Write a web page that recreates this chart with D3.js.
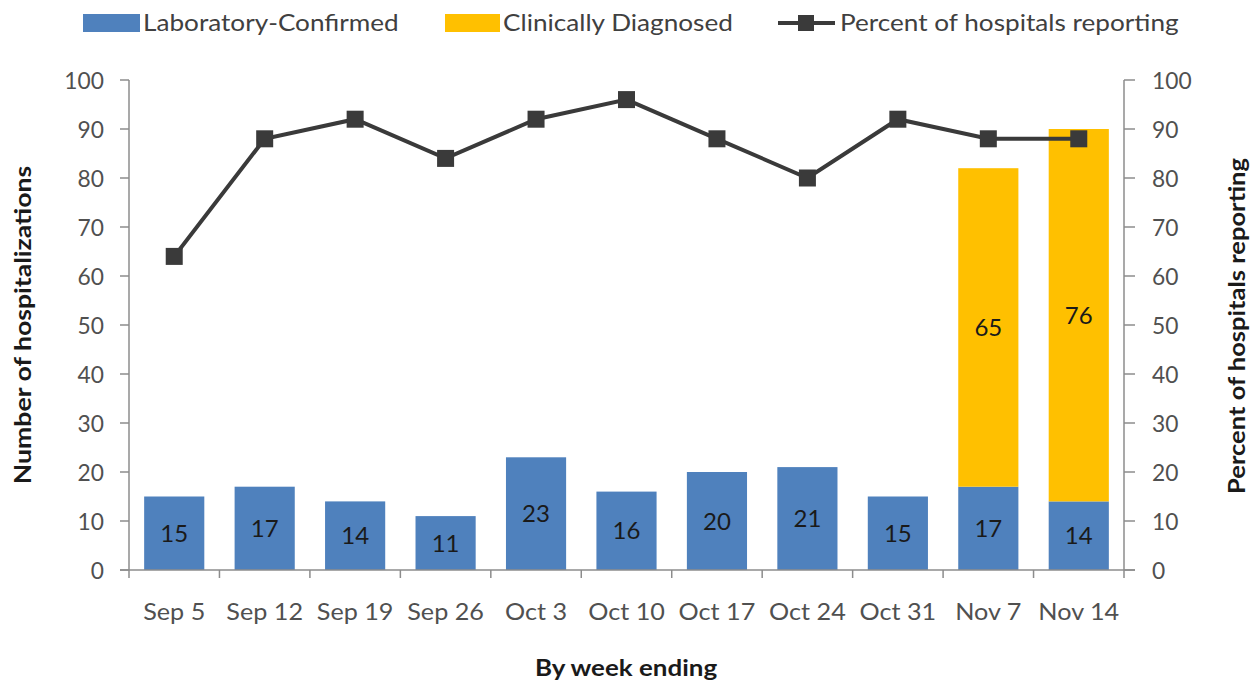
<!doctype html>
<html lang="en">
<head>
  <script src="https://cdnjs.cloudflare.com/ajax/libs/d3/7.8.5/d3.min.js"></script>
  <style type="text/css">
    body {
      padding: 0;
      margin: 0;
      background: #fff;
    }
    svg text {
      font-family: Lato, "Open Sans", sans-serif;
    }
  </style>
</head>
<body>
<svg id="canvas" width="1257" height="684"></svg>
<script>

var weeks = ['Sep 5', 'Sep 12', 'Sep 19', 'Sep 26', 'Oct 3', 'Oct 10',
             'Oct 17', 'Oct 24', 'Oct 31', 'Nov 7', 'Nov 14'];
var labConfirmed = [15, 17, 14, 11, 23, 16, 20, 21, 15, 17, 14];
var clinical = [0, 0, 0, 0, 0, 0, 0, 0, 0, 65, 76];
var pctReporting = [64, 88, 92, 84, 92, 96, 88, 80, 92, 88, 88];
var yTicks = [0, 10, 20, 30, 40, 50, 60, 70, 80, 90, 100];

var blue = '#4f81bd';
var gold = '#ffc000';
var lineColor = '#3a3a3a';
var axisColor = '#8c8c8c';
var tickText = '#505050';

var svg = d3.select('#canvas');

var plotLeft = 129, plotRight = 1124, plotTop = 80, plotBottom = 570;

var x = d3.scaleBand().domain(weeks).range([plotLeft, plotRight]).paddingInner(0.335).paddingOuter(0.1675);
var xEdge = d3.scaleBand().domain(weeks).range([plotLeft, plotRight]);
var y = d3.scaleLinear().domain([0, 100]).range([plotBottom, plotTop]);
var y2 = d3.scaleLinear().domain([0, 100]).range([plotBottom, plotTop]);

// text squeezed/stretched sideways to match the narrow source font
function stretchedText(g, px, py, txt, anchor, k) {
  return g.append('text')
    .attr('transform', 'translate(' + px + ',' + py + ') scale(' + k + ',1)')
    .attr('text-anchor', anchor || 'middle')
    .text(txt);
}

var rows = weeks.map(function(w, i) {
  return { week: w, lab: labConfirmed[i], clin: clinical[i], pct: pctReporting[i] };
});

// bars
svg.append('g').selectAll('rect').data(rows).enter().append('rect')
  .attr('x', function(d) { return x(d.week); })
  .attr('y', function(d) { return y(d.lab); })
  .attr('width', x.bandwidth())
  .attr('height', function(d) { return y(0) - y(d.lab); })
  .attr('fill', blue);

svg.append('g').selectAll('rect').data(rows.filter(function(d) { return d.clin > 0; })).enter().append('rect')
  .attr('x', function(d) { return x(d.week); })
  .attr('y', function(d) { return y(d.lab + d.clin); })
  .attr('width', x.bandwidth())
  .attr('height', function(d) { return y(d.lab) - y(d.lab + d.clin); })
  .attr('fill', gold);

// bar labels
var lbl = svg.append('g').style('font-size', '24px').style('fill', '#1a1a1a');
rows.forEach(function(d) {
  var cx = x(d.week) + x.bandwidth() / 2;
  stretchedText(lbl, cx, (y(0) + y(d.lab)) / 2 + 8.5, d.lab, 'middle', 1.0);
  if (d.clin > 0) {
    stretchedText(lbl, cx, (y(d.lab) + y(d.lab + d.clin)) / 2 + 8.5, d.clin, 'middle', 1.0);
  }
});

// axes
var axes = svg.append('g').attr('stroke', axisColor).attr('stroke-width', 1.5).attr('fill', 'none');
axes.append('line').attr('x1', plotLeft).attr('x2', plotLeft).attr('y1', plotTop).attr('y2', plotBottom + 8);
axes.append('line').attr('x1', plotRight).attr('x2', plotRight).attr('y1', plotTop).attr('y2', plotBottom + 8);
axes.append('line').attr('x1', plotLeft - 9).attr('x2', plotRight + 11).attr('y1', plotBottom).attr('y2', plotBottom);
yTicks.forEach(function(t) {
  axes.append('line').attr('x1', plotLeft - 9).attr('x2', plotLeft).attr('y1', y(t)).attr('y2', y(t));
  axes.append('line').attr('x1', plotRight).attr('x2', plotRight + 11).attr('y1', y2(t)).attr('y2', y2(t));
});
weeks.forEach(function(w, i) {
  if (i > 0) {
    var ex = xEdge(w);
    axes.append('line').attr('x1', ex).attr('x2', ex).attr('y1', plotBottom).attr('y2', plotBottom + 8);
  }
});

var tl = svg.append('g').style('font-size', '24px').style('fill', tickText);
yTicks.forEach(function(t) {
  stretchedText(tl, 104, y(t) + 8.5, t, 'end', 0.95);
  stretchedText(tl, 1152, y2(t) + 8.5, t, 'start', 0.95);
});
weeks.forEach(function(w) {
  stretchedText(tl, x(w) + x.bandwidth() / 2, 620, w, 'middle', 1.05);
});

// percent line
var line = d3.line()
  .x(function(d) { return x(d.week) + x.bandwidth() / 2; })
  .y(function(d) { return y2(d.pct); });

svg.append('path').datum(rows)
  .attr('d', line)
  .attr('fill', 'none')
  .attr('stroke', lineColor)
  .attr('stroke-width', 4);

var ms = 17;
svg.append('g').selectAll('rect').data(rows).enter().append('rect')
  .attr('x', function(d) { return x(d.week) + x.bandwidth() / 2 - ms / 2; })
  .attr('y', function(d) { return y2(d.pct) - ms / 2; })
  .attr('width', ms)
  .attr('height', ms)
  .attr('fill', lineColor);

// titles
var tt = svg.append('g').style('font-size', '22px').style('font-weight', 'bold').style('fill', '#1a1a1a');
stretchedText(tt, 626, 676, 'By week ending', 'middle', 1.18);
tt.append('text')
  .attr('transform', 'translate(31,325) rotate(-90) scale(1.21,1)')
  .attr('text-anchor', 'middle')
  .text('Number of hospitalizations');
tt.append('text')
  .attr('transform', 'translate(1245,326) rotate(-90) scale(1.16,1)')
  .attr('text-anchor', 'middle')
  .text('Percent of hospitals reporting');

// legend
var lg = svg.append('g').style('font-size', '24px').style('fill', '#404040');
lg.append('rect').attr('x', 83).attr('y', 14).attr('width', 57).attr('height', 18).attr('fill', blue);
stretchedText(lg, 143, 31, 'Laboratory-Confirmed', 'start', 1.09);
lg.append('rect').attr('x', 445).attr('y', 14).attr('width', 55).attr('height', 18).attr('fill', gold);
stretchedText(lg, 503, 31, 'Clinically Diagnosed', 'start', 1.09);
lg.append('line').attr('x1', 778).attr('x2', 835).attr('y1', 23).attr('y2', 23)
  .attr('stroke', lineColor).attr('stroke-width', 4);
lg.append('rect').attr('x', 798).attr('y', 15).attr('width', 16).attr('height', 16).attr('fill', lineColor);
stretchedText(lg, 840, 31, 'Percent of hospitals reporting', 'start', 1.09);

</script>
</body>
</html>
